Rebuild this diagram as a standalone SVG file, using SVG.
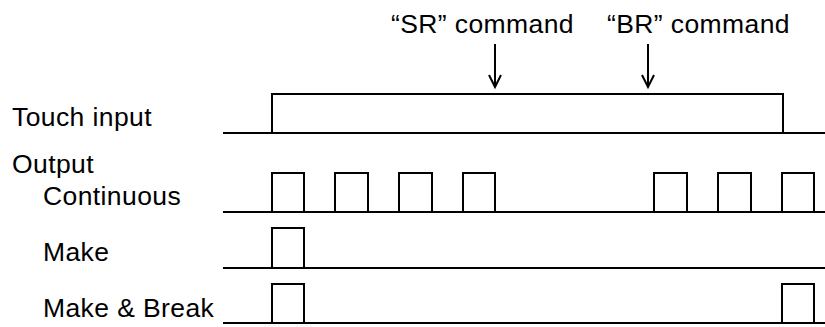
<svg xmlns="http://www.w3.org/2000/svg" width="825" height="327" viewBox="0 0 825 327">
<style>
text{font-family:"Liberation Sans",Arial,sans-serif;font-size:26.5px;letter-spacing:0.4px;fill:#000}
.w{fill:none;stroke:#000;stroke-width:2;stroke-linejoin:miter}
</style>
<rect width="825" height="327" fill="#fff"/>
<g id="labels">
<text x="391" y="33">“SR” command</text>
<text x="607" y="33">“BR” command</text>
<text x="12" y="126">Touch input</text>
<text x="12" y="173">Output</text>
<text x="43" y="205">Continuous</text>
<text x="43" y="261">Make</text>
<text x="43" y="317">Make &amp; Break</text>
</g>
<g id="connectors" class="w">
<path d="M495 44V87M489 75L495 87L501 75"/>
<path d="M648 44V87M642 75L648 87L654 75"/>
</g>
<g id="touch" class="w">
<path d="M223 133H825"/>
<path d="M272 133V94H783V133"/>
</g>
<g id="continuous" class="w">
<path d="M223 212H825"/>
<path d="M272 212V173H304V212M335 212V173H368V212M399 212V173H432V212M463 212V173H495V212M654 212V173H687V212M718 212V173H751V212M782 212V173H814V212"/>
</g>
<g id="make" class="w">
<path d="M223 268H825"/>
<path d="M272 268V228H304V268"/>
</g>
<g id="makebreak" class="w">
<path d="M223 323H825"/>
<path d="M272 323V284H304V323M782 323V284H814V323"/>
</g>
</svg>
